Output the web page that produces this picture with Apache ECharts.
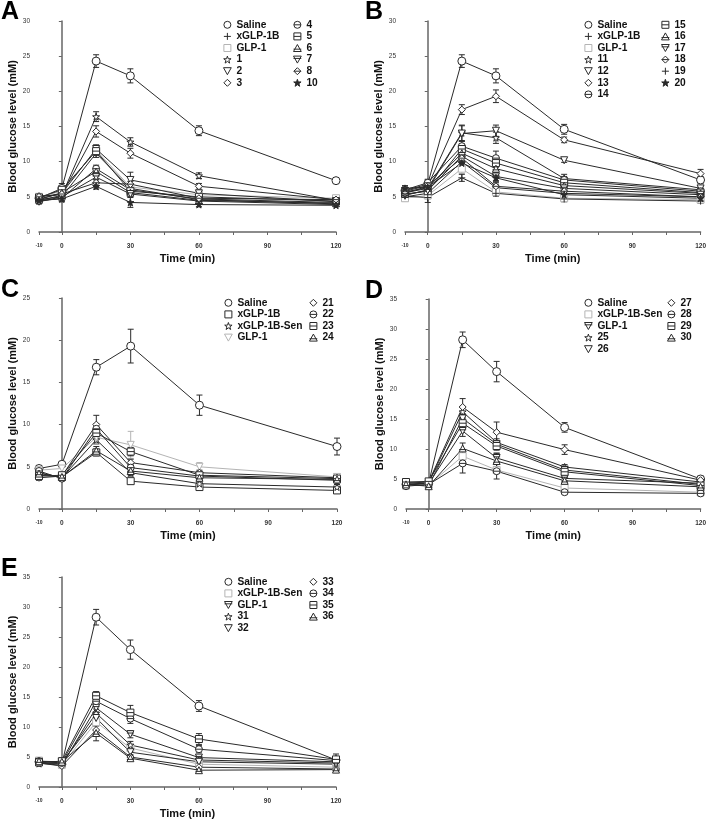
<!DOCTYPE html>
<html>
<head>
<meta charset="utf-8">
<script src="https://cdn.jsdelivr.net/npm/echarts@6/dist/echarts.min.js"></script>
<style>
html,body{margin:0;padding:0;background:#fff;}
#chart{width:709px;height:821px;}
</style>
</head>
<body>
<div id="chart"></div>
<script>
// ---------------- DATA ----------------
const TIMES = [-10, 0, 15, 30, 60, 120];
const X_LABEL_TIMES = [-10, 0, 30, 60, 90, 120];
const X_TICK_TIMES = [-10, 0, 15, 30, 45, 60, 75, 90, 105, 120];

// Panel A
const A_NAMES = ['Saline', 'xGLP-1B', 'GLP-1', '1', '2', '3', '4', '5', '6', '7', '8', '10'];
const A_VALUES = [
  [4.8, 6.2, 24.3, 22.2, 14.4, 7.3],
  [4.6, 5.0, 11.2, 6.2, 4.6, 4.0],
  [5.0, 5.8, 11.6, 6.4, 5.3, 4.8],
  [4.5, 5.2, 16.4, 12.8, 8.0, 4.5],
  [4.7, 5.5, 11.8, 7.4, 5.5, 4.3],
  [5.1, 5.3, 14.3, 11.2, 6.5, 4.6],
  [4.4, 4.8, 9.0, 6.0, 4.7, 4.2],
  [4.9, 6.0, 11.5, 5.8, 5.0, 4.4],
  [4.6, 5.6, 8.6, 5.6, 4.5, 4.1],
  [4.3, 5.0, 7.8, 5.4, 4.4, 3.9],
  [5.0, 5.4, 7.0, 6.8, 4.8, 4.6],
  [4.5, 4.7, 6.5, 4.2, 3.9, 3.8]
];
const A_ERRORS = [
  [0.4, 0.7, 0.9, 1.0, 0.7, 0.4],
  [0.3, 0.4, 0.6, 0.5, 0.3, 0.2],
  [0.3, 0.4, 0.5, 0.5, 0.3, 0.2],
  [0.3, 0.5, 0.7, 0.6, 0.4, 0.3],
  [0.3, 0.4, 0.6, 1.1, 0.3, 0.3],
  [0.3, 0.6, 0.8, 0.7, 0.4, 0.3],
  [0.3, 0.4, 0.5, 0.5, 0.3, 0.2],
  [0.3, 0.5, 0.6, 0.5, 0.3, 0.2],
  [0.3, 0.4, 0.5, 0.4, 0.3, 0.2],
  [0.3, 0.4, 0.4, 0.4, 0.3, 0.2],
  [0.3, 0.4, 0.5, 0.4, 0.3, 0.2],
  [0.3, 0.4, 0.4, 0.7, 0.3, 0.2]
];

// Panel B
const B_NAMES = ['Saline', 'xGLP-1B', 'GLP-1', '11', '12', '13', '14', '15', '16', '17', '18', '19', '20'];
const B_VALUES = [
  [5.9, 6.8, 24.3, 22.2, 14.6, 7.4],
  [5.0, 5.5, 10.0, 6.3, 5.5, 5.0],
  [4.8, 5.2, 9.0, 5.7, 4.8, 4.6],
  [5.6, 6.2, 14.1, 13.4, 7.6, 6.0],
  [5.2, 6.0, 14.0, 14.4, 10.2, 6.2],
  [5.5, 6.5, 17.4, 19.3, 13.1, 8.3],
  [6.0, 7.0, 12.2, 10.5, 7.4, 5.8],
  [5.4, 5.8, 11.8, 9.8, 7.0, 5.6],
  [5.7, 6.3, 11.2, 9.0, 6.6, 5.5],
  [5.3, 5.9, 10.8, 7.9, 6.2, 5.3],
  [5.8, 6.6, 10.5, 6.5, 5.8, 5.0],
  [5.1, 4.9, 7.7, 5.5, 4.7, 4.4],
  [6.2, 6.4, 9.8, 7.7, 5.3, 4.8]
];
const B_ERRORS = [
  [0.4, 0.6, 0.9, 1.0, 0.7, 0.5],
  [0.4, 0.5, 0.7, 0.5, 0.4, 0.3],
  [0.4, 0.5, 0.7, 0.5, 0.4, 0.3],
  [0.4, 0.5, 1.1, 0.8, 0.6, 0.4],
  [0.4, 0.5, 1.1, 0.8, 0.3, 0.4],
  [0.4, 0.5, 0.7, 0.9, 0.4, 0.6],
  [0.4, 0.5, 0.7, 1.0, 0.5, 0.3],
  [0.4, 0.5, 0.7, 0.6, 0.4, 0.3],
  [0.4, 0.5, 0.7, 0.6, 0.4, 0.3],
  [0.4, 0.5, 0.7, 0.6, 0.4, 0.3],
  [0.4, 0.5, 0.7, 0.6, 0.4, 0.3],
  [0.4, 0.7, 0.5, 0.4, 0.4, 0.3],
  [0.4, 0.5, 0.7, 0.6, 0.4, 0.3]
];

// Panel C
const C_NAMES = ['Saline', 'xGLP-1B', 'xGLP-1B-Sen', 'GLP-1', '21', '22', '23', '24'];
const C_VALUES = [
  [4.8, 5.3, 16.8, 19.3, 12.3, 7.4],
  [4.0, 3.8, 6.7, 3.3, 2.6, 2.2],
  [4.3, 3.7, 8.2, 4.3, 3.0, 2.6],
  [4.6, 4.8, 8.5, 7.6, 5.0, 3.8],
  [3.7, 3.9, 10.0, 5.5, 4.3, 3.7],
  [4.5, 3.6, 9.5, 4.9, 3.9, 3.4],
  [3.9, 4.0, 9.0, 6.8, 4.0, 3.6],
  [4.2, 3.8, 6.9, 4.5, 3.7, 3.5]
];
const C_ERRORS = [
  [0.3, 0.3, 0.9, 2.0, 1.2, 1.0],
  [0.3, 0.2, 0.4, 0.3, 0.3, 0.3],
  [0.3, 0.2, 0.5, 0.4, 0.3, 0.3],
  [0.3, 0.4, 0.8, 1.6, 0.5, 0.3],
  [0.3, 0.2, 1.1, 0.4, 0.3, 0.4],
  [0.3, 0.2, 0.6, 0.4, 0.3, 0.3],
  [0.3, 0.2, 0.6, 0.5, 0.3, 0.3],
  [0.3, 0.2, 0.5, 0.4, 0.3, 0.3]
];

// Panel D
const D_NAMES = ['Saline', 'xGLP-1B-Sen', 'GLP-1', '25', '26', '27', '28', '29', '30'];
const D_VALUES = [
  [4.1, 4.3, 28.2, 22.9, 13.6, 5.0],
  [3.9, 4.0, 8.8, 6.5, 3.5, 2.8],
  [4.4, 4.2, 13.0, 8.5, 5.1, 4.3],
  [4.0, 4.4, 16.2, 11.1, 7.0, 4.5],
  [4.2, 3.9, 15.1, 10.8, 6.5, 4.1],
  [4.3, 4.5, 17.0, 12.8, 9.9, 4.8],
  [3.8, 4.1, 7.6, 6.3, 2.8, 2.6],
  [4.5, 4.6, 14.3, 10.5, 6.2, 3.9],
  [4.1, 3.8, 10.1, 8.0, 4.7, 3.7]
];
const D_ERRORS = [
  [0.4, 0.4, 1.3, 1.7, 0.8, 0.5],
  [0.3, 0.3, 1.0, 0.6, 0.3, 0.3],
  [0.3, 0.3, 0.9, 0.8, 0.4, 0.3],
  [0.3, 0.3, 0.9, 0.6, 0.4, 0.3],
  [0.3, 0.3, 0.8, 0.6, 0.4, 0.3],
  [0.3, 0.3, 1.4, 1.7, 0.8, 0.5],
  [0.4, 0.4, 1.6, 1.3, 0.3, 0.4],
  [0.3, 0.3, 0.8, 0.7, 0.4, 0.3],
  [0.3, 0.3, 0.9, 1.3, 0.4, 0.3]
];

// Panel E
const E_NAMES = ['Saline', 'xGLP-1B-Sen', 'GLP-1', '31', '32', '33', '34', '35', '36'];
const E_VALUES = [
  [4.2, 3.8, 28.3, 22.9, 13.5, 4.5],
  [4.4, 3.7, 10.8, 6.5, 3.8, 3.3],
  [4.0, 3.6, 13.2, 8.8, 4.9, 4.2],
  [3.9, 3.9, 12.3, 7.0, 4.5, 4.0],
  [4.2, 4.1, 11.5, 5.8, 4.2, 3.8],
  [4.0, 3.5, 9.5, 5.0, 3.3, 3.0],
  [4.3, 4.0, 14.3, 11.4, 6.3, 4.4],
  [4.1, 4.3, 15.2, 12.4, 8.0, 4.6],
  [4.3, 4.2, 9.0, 4.8, 2.8, 2.9]
];
const E_ERRORS = [
  [0.4, 0.5, 1.3, 1.6, 0.9, 0.5],
  [0.3, 0.3, 0.7, 0.6, 0.4, 0.3],
  [0.3, 0.3, 0.7, 0.6, 0.4, 0.3],
  [0.3, 0.3, 0.7, 0.6, 0.4, 0.3],
  [0.3, 0.3, 0.7, 0.6, 0.4, 0.3],
  [0.3, 0.3, 0.7, 0.4, 0.4, 0.3],
  [0.3, 0.3, 0.7, 0.8, 0.6, 0.4],
  [0.3, 0.5, 0.7, 1.2, 0.9, 0.9],
  [0.3, 0.3, 1.3, 0.4, 0.4, 0.3]
];

const Y_MAX = { A: 30, B: 30, C: 25, D: 35, E: 35 };

// ---------------- STYLES ----------------
const DARK = '#2a2a2a';
const LIGHT = '#b4b4b4';
const SYM = {
  circle: 'path://M10,5A5,5 0 1 1 0,5A5,5 0 1 1 10,5Z',
  plus: 'path://M5,0L5,10M0,5L10,5',
  square: 'path://M0,0L10,0L10,10L0,10Z',
  star: 'path://M5,0L6.2,3.6L10,3.6L7,5.9L8.1,9.5L5,7.3L1.9,9.5L3,5.9L0,3.6L3.8,3.6Z',
  triDown: 'path://M0,1L10,1L5,10Z',
  tri: 'path://M5,0L10,9L0,9Z',
  diamond: 'path://M5,0L10,5L5,10L0,5Z',
  circleLine: 'path://M10,5A5,5 0 1 1 0,5A5,5 0 1 1 10,5ZM0,5L10,5',
  squareLine: 'path://M0,0L10,0L10,10L0,10ZM0,5L10,5',
  triLine: 'path://M5,0L10,9L0,9ZM0,6L10,6',
  triDownLine: 'path://M0,1L10,1L5,10ZM0,4L10,4',
  diamondLine: 'path://M5,0L10,5L5,10L0,5ZM0,5L10,5',
  starFilled: 'path://M5,0L6.2,3.6L10,3.6L7,5.9L8.1,9.5L5,7.3L1.9,9.5L3,5.9L0,3.6L3.8,3.6Z'
};

const PANELS = [
  { id: 'A', names: A_NAMES, values: A_VALUES, errors: A_ERRORS,
    symbols: ['circle','plus','square','star','triDown','diamond','circleLine','squareLine','triLine','triDownLine','diamondLine','starFilled'],
    light: ['GLP-1'],
    grid: { left: 39, top: 21, width: 297, height: 211 },
    legendCols: [{ left: 223, top: 19, count: 6 }, { left: 293, top: 19, count: 6 }],
    letter: { left: 1, top: 0 } },
  { id: 'B', names: B_NAMES, values: B_VALUES, errors: B_ERRORS,
    symbols: ['circle','plus','square','star','triDown','diamond','circleLine','squareLine','triLine','triDownLine','diamondLine','plus','starFilled'],
    light: ['GLP-1'],
    grid: { left: 405, top: 21, width: 297, height: 211 },
    legendCols: [{ left: 584, top: 19, count: 7 }, { left: 661, top: 19, count: 6 }],
    letter: { left: 365, top: 0 } },
  { id: 'C', names: C_NAMES, values: C_VALUES, errors: C_ERRORS,
    symbols: ['circle','square','star','triDown','diamond','circleLine','squareLine','triLine'],
    light: ['GLP-1'],
    grid: { left: 39, top: 298, width: 298, height: 211 },
    legendCols: [{ left: 224, top: 297, count: 4 }, { left: 309, top: 297, count: 4 }],
    letter: { left: 1, top: 278 } },
  { id: 'D', names: D_NAMES, values: D_VALUES, errors: D_ERRORS,
    symbols: ['circle','square','triDownLine','star','triDown','diamond','circleLine','squareLine','triLine'],
    light: ['xGLP-1B-Sen'],
    grid: { left: 406, top: 299, width: 297, height: 210 },
    legendCols: [{ left: 584, top: 297, count: 5 }, { left: 667, top: 297, count: 4 }],
    letter: { left: 365, top: 279 } },
  { id: 'E', names: E_NAMES, values: E_VALUES, errors: E_ERRORS,
    symbols: ['circle','square','triDownLine','star','triDown','diamond','circleLine','squareLine','triLine'],
    light: ['xGLP-1B-Sen'],
    grid: { left: 39, top: 577, width: 297, height: 210 },
    legendCols: [{ left: 224, top: 576, count: 5 }, { left: 309, top: 576, count: 4 }],
    letter: { left: 1, top: 557 } }
];

const FONT = '"Liberation Sans", Arial, sans-serif';

const grids = [], xAxes = [], yAxes = [], series = [], legends = [], graphics = [];

PANELS.forEach((p, pi) => {
  grids.push(Object.assign({}, p.grid));
  xAxes.push({
    gridIndex: pi, type: 'value', min: -10, max: 120, offset: 7,
    name: 'Time (min)', nameLocation: 'middle', nameGap: 14,
    nameTextStyle: { fontFamily: FONT, fontWeight: 'bold', fontSize: 11, color: '#111' },
    axisLine: { show: true, lineStyle: { color: '#666', width: 1.5 } },
    axisTick: { show: true, length: 3, lineStyle: { color: '#666', width: 1 }, customValues: X_TICK_TIMES },
    axisLabel: { fontFamily: FONT, fontWeight: 'bold', fontSize: 6.5, color: '#333', margin: 4,
      customValues: X_LABEL_TIMES,
      formatter: v => v < 0 ? '{s|' + v + '}' : String(v),
      rich: { s: { fontSize: 5, fontWeight: 'bold', fontFamily: FONT, color: '#333' } } },
    splitLine: { show: false }
  });
  yAxes.push({
    gridIndex: pi, type: 'value', min: 0, max: Y_MAX[p.id], interval: 5, offset: 7,
    name: 'Blood glucose level (mM)', nameLocation: 'middle', nameGap: 14, nameRotate: 90,
    nameTextStyle: { fontFamily: FONT, fontWeight: 'bold', fontSize: 11, color: '#111' },
    axisLine: { show: true, lineStyle: { color: '#666', width: 1.5 } },
    axisTick: { show: true, length: 3, lineStyle: { color: '#666', width: 1 } },
    axisLabel: { fontFamily: FONT, fontSize: 6.5, color: '#333', margin: 2 },
    splitLine: { show: false }
  });

  const legendData = [];
  p.names.forEach((nm, si) => {
    const key = p.id + '|' + nm;
    const col = p.light.indexOf(nm) >= 0 ? LIGHT : DARK;
    const symKey = p.symbols[si];
    const filled = symKey === 'starFilled';
    const vals = p.values[si];
    const errs = p.errors[si];
    legendData.push({
      name: key,
      icon: SYM[symKey],
      itemStyle: { color: filled ? col : '#fff', borderColor: col, borderWidth: 1 },
      lineStyle: { color: col, width: 1 }
    });
    series.push({
      type: 'custom', name: key + '|err', xAxisIndex: pi, yAxisIndex: pi, z: 1,
      silent: true, animation: false,
      encode: { x: 0, y: 1 },
      data: TIMES.map((t, k) => [t, vals[k], errs[k]]),
      renderItem: (params, api) => {
        const x = api.value(0), y = api.value(1), e = api.value(2);
        const top = api.coord([x, y + e]);
        const bot = api.coord([x, y - e]);
        const w = 3;
        const st = { stroke: col, lineWidth: 1 };
        return { type: 'group', children: [
          { type: 'line', shape: { x1: top[0], y1: top[1], x2: bot[0], y2: bot[1] }, style: st },
          { type: 'line', shape: { x1: top[0] - w, y1: top[1], x2: top[0] + w, y2: top[1] }, style: st },
          { type: 'line', shape: { x1: bot[0] - w, y1: bot[1], x2: bot[0] + w, y2: bot[1] }, style: st }
        ] };
      }
    });
    series.push({
      type: 'line', name: key, xAxisIndex: pi, yAxisIndex: pi, z: 3,
      animation: false,
      data: TIMES.map((t, k) => [t, vals[k]]),
      symbol: SYM[symKey], symbolSize: nm === 'Saline' ? 8 : 7,
      showAllSymbol: true,
      lineStyle: { color: col, width: 1 },
      itemStyle: { color: filled ? col : '#fff', borderColor: col, borderWidth: 1 },
      emphasis: { disabled: true }
    });
  });

  let start = 0;
  p.legendCols.forEach(c => {
    legends.push({
      orient: 'vertical', left: c.left, top: c.top, padding: 0,
      itemWidth: 8, itemHeight: 7, itemGap: 0,
      selectedMode: false,
      data: legendData.slice(start, start + c.count),
      formatter: n => n.split('|')[1],
      textStyle: { fontFamily: FONT, fontWeight: 'bold', fontSize: 10.2, color: '#111', lineHeight: 11.6 }
    });
    start += c.count;
  });

  graphics.push({
    type: 'text', left: p.letter.left, top: p.letter.top,
    style: { text: p.id, font: 'bold 25px ' + FONT, fill: '#000' }
  });
});

const chart = echarts.init(document.getElementById('chart'), null, { renderer: 'canvas' });
chart.setOption({
  backgroundColor: '#fff',
  animation: false,
  grid: grids,
  xAxis: xAxes,
  yAxis: yAxes,
  legend: legends,
  series: series,
  graphic: graphics
});
</script>
</body>
</html>
